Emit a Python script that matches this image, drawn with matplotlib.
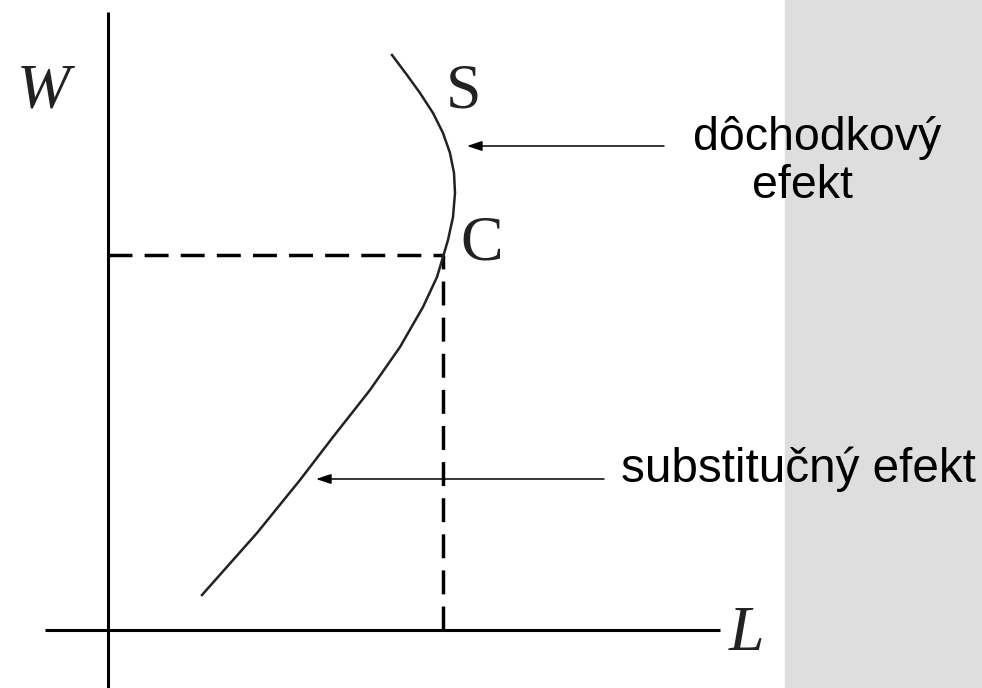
import numpy as np
import matplotlib.pyplot as plt
from matplotlib.patches import Rectangle

# labour supply curve S (L = hours of labour, W = wage)
supply_L = [2.84, 2.99, 3.12, 3.25, 3.35, 3.42, 3.46, 3.47, 3.45, 3.40, 3.35,
            3.29, 3.15, 2.92, 2.62, 2.25, 1.92, 1.49, 0.94]
supply_W = [5.75, 5.55, 5.37, 5.17, 4.97, 4.77, 4.57, 4.37, 4.13, 3.90, 3.73,
            3.53, 3.23, 2.83, 2.40, 1.93, 1.50, 0.97, 0.35]

point_C = (3.35, 3.75)

income_label = 'dôchodkový'
income_label2 = 'efekt'
subst_label = 'substitučný efekt'

fig = plt.figure(figsize=(9.82, 6.88), dpi=100)
ax = fig.add_axes([0, 0, 1, 1])
ax.set_xlim(-1.08, 8.74)
ax.set_ylim(-0.58, 6.30)
ax.axis('off')

# marble-ish panel on the right
ax.add_patch(Rectangle((6.77, -0.58), 1.97, 6.88, color='#dedede', zorder=0))

# axes
ax.plot([0, 0], [-0.58, 6.18], color='black', lw=2.2, solid_capstyle='butt')
ax.plot([-0.63, 6.12], [0, 0], color='black', lw=2.2, solid_capstyle='butt')

# dashed guides to C
ax.plot([0, point_C[0]], [point_C[1], point_C[1]], color='black', lw=2.5,
        linestyle=(0, (6.9, 3.5)))
ax.plot([point_C[0], point_C[0]], [0, point_C[1]], color='black', lw=2.5,
        linestyle=(0, (6.9, 3.5)))

# supply curve
ax.plot(supply_L, supply_W, color='#222222', lw=1.8)

serif = dict(family='Liberation Serif', fontsize=46, color='#222222')
ax.text(-0.65, 5.37, 'W', style='italic', ha='center', va='center', **serif)
ax.text(6.38, -0.05, 'L', style='italic', ha='center', va='center', **serif)
ax.text(3.56, 5.38, 'S', ha='center', va='center', **serif)
ax.text(3.74, 3.85, 'C', ha='center', va='center', **serif)

sans = dict(family='Liberation Sans', color='black', zorder=5)
ax.text(5.85, 4.80, income_label, ha='left', va='baseline', fontsize=33.5, **sans)
ax.text(6.44, 4.32, income_label2, ha='left', va='baseline', fontsize=33.5, **sans)
ax.text(5.13, 1.48, subst_label, ha='left', va='baseline', fontsize=34.3, **sans)

arrow = dict(arrowstyle='-|>,head_length=0.45,head_width=0.15',
             mutation_scale=20, color='black', lw=1.1, shrinkA=0, shrinkB=0)
ax.annotate('', xy=(3.59, 4.84), xytext=(5.56, 4.84), arrowprops=arrow)
ax.annotate('', xy=(2.08, 1.51), xytext=(4.96, 1.51), arrowprops=arrow)

fig.savefig('out.png', dpi=100)
